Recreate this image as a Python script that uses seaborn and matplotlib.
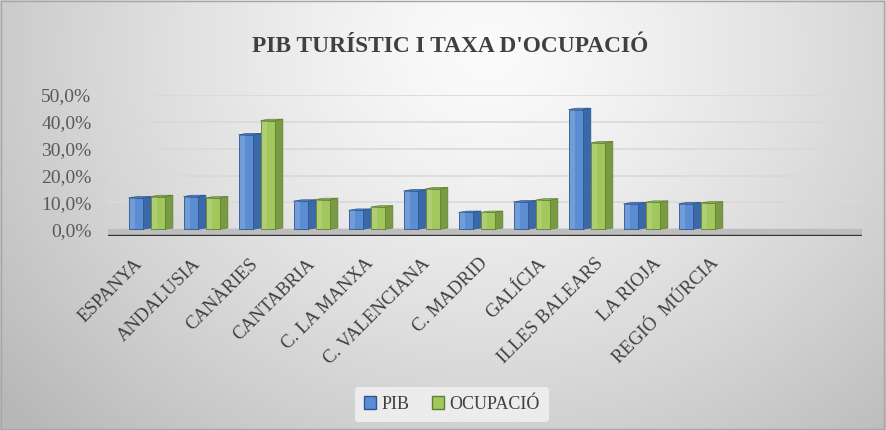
import numpy as np
import pandas as pd
import matplotlib
matplotlib.use("Agg")
import matplotlib.pyplot as plt
import seaborn as sns
from matplotlib.patches import Polygon, Patch
from matplotlib.ticker import FuncFormatter

# ---- data ----
regions = ["ESPANYA", "ANDALUSIA", "CANÀRIES", "CANTABRIA", "C. LA MANXA",
           "C. VALENCIANA", "C. MADRID", "GALÍCIA", "ILLES BALEARS",
           "LA RIOJA", "REGIÓ  MÚRCIA"]
pib = [0.117, 0.122, 0.352, 0.105, 0.071, 0.143, 0.063, 0.102, 0.446, 0.095, 0.095]
ocupacio = [0.122, 0.117, 0.405, 0.111, 0.083, 0.151, 0.063, 0.109, 0.322, 0.101, 0.098]
series_names = ["PIB", "OCUPACIÓ"]
y_ticks = [0.0, 0.1, 0.2, 0.3, 0.4, 0.5]
title = "PIB TURÍSTIC I TAXA D'OCUPACIÓ"

blue = "#5B8DD3"
green = "#A2C75D"
blue_side = "#3B68A8"
green_side = "#789A42"
blue_edge = "#2E5690"
green_edge = "#5F7F30"

sns.set_theme(style="white")
plt.rcParams["font.family"] = ["Liberation Serif", "DejaVu Serif"]

W, H = 886, 430
fig = plt.figure(figsize=(W / 100, H / 100), dpi=100)

# background gradient
bg = fig.add_axes([0, 0, 1, 1], zorder=-10)
yy, xx = np.mgrid[0:1:H * 1j, 0:1:W * 1j]
d = np.sqrt(((xx - 0.55) / 0.62) ** 2 + ((yy - 0.12) / 1.1) ** 2)
v = np.clip(0.985 - 0.22 * d ** 1.3, 0.72, 1)
img = np.dstack([v, v, v])
bg.imshow(img, aspect="auto", extent=[0, 1, 0, 1], origin="upper")
bg.set_xlim(0, 1)
bg.set_ylim(0, 1)
bg.axis("off")
bg.add_patch(plt.Rectangle((0.001, 0.002), 0.997, 0.995, fill=False,
                           edgecolor="#a6a6a6", linewidth=1))

ax = fig.add_axes([0.122, 0.451, 0.851, 0.328])
ax.set_facecolor("none")

df = pd.DataFrame({
    "Regió": regions * 2,
    "Valor": pib + ocupacio,
    "Sèrie": [series_names[0]] * len(regions) + [series_names[1]] * len(regions),
})
sns.barplot(data=df, x="Regió", y="Valor", hue="Sèrie", hue_order=series_names,
            palette=[blue, green], width=0.8, gap=0.36, saturation=1,
            edgecolor=None, linewidth=0, ax=ax, legend=False, zorder=3)

# 3D-like depth on bars, derived from the bar patches
dx, dy = 0.15, 0.005
shift = -0.06
for p in list(ax.patches):
    p.set_x(p.get_x() + shift)
    x0, w, h = p.get_x(), p.get_width(), p.get_height()
    fc = p.get_facecolor()
    is_blue = fc[2] > fc[1]
    ec = blue_edge if is_blue else green_edge
    sc = blue_side if is_blue else green_side
    p.set_edgecolor(ec)
    p.set_linewidth(0.6)
    x1 = x0 + w
    side = Polygon([(x1, 0), (x1 + dx, dy), (x1 + dx, h + dy), (x1, h)],
                   closed=True, facecolor=sc, edgecolor=ec, linewidth=0.5, zorder=2.9)
    top = Polygon([(x0, h), (x0 + dx, h + dy), (x1 + dx, h + dy), (x1, h)],
                  closed=True, facecolor=fc, edgecolor=ec, linewidth=0.5, zorder=3.1)
    ax.add_patch(side)
    ax.add_patch(top)
    ax.add_patch(plt.Rectangle((x0 + w * 0.1, 0), w * 0.35, h, facecolor="white",
                               alpha=0.14, edgecolor="none", zorder=3.2))

ax.set_xlim(-0.76, 12.95)
ax.set_ylim(-0.025, 0.5)
ax.set_yticks(y_ticks)
ax.yaxis.set_major_formatter(FuncFormatter(lambda v, _: f"{v * 100:.1f}%".replace(".", ",")))
ax.grid(axis="y", color="#d9d9d9", linewidth=1.2, zorder=0)
ax.grid(axis="x", visible=False)
for s in ax.spines.values():
    s.set_visible(False)

# floor
ax.axhspan(-0.025, 0.0, color="#bdbdbd", zorder=1)
ax.axhline(-0.025, color="#333333", linewidth=2.4, zorder=4)

ax.set_xlabel("")
ax.set_ylabel("")
# labels fan out slightly wider than the bars (3D perspective)
ax.set_xticks([-0.18 + 1.047 * i for i in range(len(regions))])
ax.set_xticklabels(regions, rotation=45, ha="right", va="center", rotation_mode="anchor",
                   fontsize=13.5, color="#404040")
ax.tick_params(axis="x", length=0, pad=18)
ax.tick_params(axis="y", length=0, pad=12, labelsize=14)
for lbl in ax.get_yticklabels():
    lbl.set_color("#595959")

fig.text(0.508, 0.893, title, ha="center", va="center", fontsize=16.8,
         fontweight="bold", color="#404040")

handles = [Patch(facecolor=blue, edgecolor=blue_edge, label=series_names[0]),
           Patch(facecolor=green, edgecolor=green_edge, label=series_names[1])]
leg = fig.legend(handles=handles, loc="center", bbox_to_anchor=(0.51, 0.059), ncol=2,
                 frameon=True, fontsize=13, handlelength=0.7, handleheight=0.7,
                 handletextpad=0.3, columnspacing=1.2, borderpad=0.5)
leg.get_frame().set_facecolor("#ececec")
leg.get_frame().set_edgecolor("none")
leg.get_frame().set_alpha(1)
for t in leg.get_texts():
    t.set_color("#404040")

fig.savefig("out.png", dpi=100)
